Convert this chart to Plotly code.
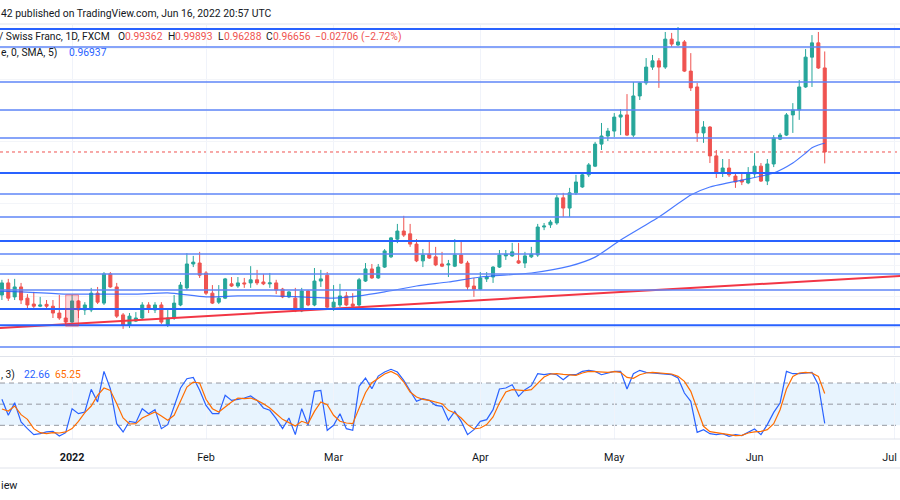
import numpy as np
import pandas as pd
import plotly.graph_objects as go

# ---------------- data ----------------
calendar = pd.bdate_range("2021-12-01", "2022-07-29")
anchor = calendar.get_loc(pd.Timestamp("2022-01-03"))


def pos(d):
    return int(calendar.get_loc(pd.Timestamp(d)) - anchor)


dates = pd.bdate_range("2021-12-17", "2022-06-16")

opens = [0.9205, 0.9244, 0.9199, 0.9231, 0.9195, 0.9176, 0.9169, 0.9175, 0.9169, 0.9147, 0.9131,
         0.9118, 0.9186, 0.9157, 0.9157, 0.9211, 0.9179, 0.9273, 0.9231, 0.9141, 0.9108,
         0.9121, 0.9131, 0.9173, 0.9157, 0.9173, 0.9108, 0.9131, 0.9173, 0.9228, 0.9305,
         0.9308, 0.9276, 0.9211, 0.9182, 0.9195, 0.9241, 0.9234, 0.9244, 0.9244, 0.9254,
         0.9247, 0.9241, 0.9244, 0.9224, 0.9199, 0.9195, 0.9154, 0.9218, 0.9173, 0.9250,
         0.9269, 0.9166, 0.9173, 0.9202, 0.9176, 0.9173, 0.9250, 0.9289, 0.9260, 0.9295,
         0.9328, 0.9385, 0.9411, 0.9402, 0.9369, 0.9315, 0.9337, 0.9328, 0.9305, 0.9302,
         0.9298, 0.9334, 0.9308, 0.9234, 0.9224, 0.9257, 0.9263, 0.9295, 0.9331, 0.9331,
         0.9315, 0.9308, 0.9328, 0.9334, 0.9424, 0.9431, 0.9437, 0.9518, 0.9485, 0.9534,
         0.9553, 0.9592, 0.9620, 0.9691, 0.9717, 0.9733, 0.9778, 0.9785, 0.9720, 0.9846,
         0.9888, 0.9939, 0.9959, 0.9939, 1.0029, 1.0010, 1.0020, 0.9926, 0.9875, 0.9727,
         0.9746, 0.9653, 0.9598, 0.9614, 0.9588, 0.9575, 0.9566, 0.9595, 0.9620, 0.9572,
         0.9627, 0.9707, 0.9720, 0.9785, 0.9801, 0.9875, 0.9971, 1.0017, 0.99362]
highs = [0.9254, 0.9257, 0.9257, 0.9244, 0.9208, 0.9215, 0.9199, 0.9189, 0.9189, 0.9205, 0.9157,
         0.9205, 0.9189, 0.9182, 0.9228, 0.9231, 0.9279, 0.9279, 0.9244, 0.9147, 0.9147,
         0.9150, 0.9182, 0.9182, 0.9182, 0.9182, 0.9157, 0.9205, 0.9247, 0.9340, 0.9331,
         0.9344, 0.9282, 0.9237, 0.9237, 0.9260, 0.9263, 0.9263, 0.9260, 0.9298, 0.9286,
         0.9273, 0.9276, 0.9254, 0.9228, 0.9218, 0.9228, 0.9228, 0.9221, 0.9292, 0.9286,
         0.9279, 0.9237, 0.9241, 0.9215, 0.9211, 0.9260, 0.9308, 0.9305, 0.9305, 0.9353,
         0.9392, 0.9434, 0.9460, 0.9434, 0.9385, 0.9353, 0.9376, 0.9360, 0.9344, 0.9318,
         0.9385, 0.9376, 0.9315, 0.9260, 0.9279, 0.9279, 0.9298, 0.9350, 0.9350, 0.9373,
         0.9373, 0.9344, 0.9360, 0.9434, 0.9437, 0.9447, 0.9527, 0.9534, 0.9550, 0.9592,
         0.9595, 0.9630, 0.9698, 0.9759, 0.9743, 0.9791, 0.9804, 0.9852, 0.9891, 0.9891,
         0.9968, 0.9978, 0.9968, 1.0052, 1.0049, 1.0068, 1.0026, 0.9984, 0.9888, 0.9765,
         0.9749, 0.9672, 0.9643, 0.9643, 0.9601, 0.9601, 0.9617, 0.9662, 0.9630, 0.9643,
         0.9720, 0.9727, 0.9791, 0.9823, 0.9897, 0.9997, 1.0042, 1.0052, 0.99893]
lows = [0.9189, 0.9186, 0.9189, 0.9176, 0.9163, 0.9163, 0.9166, 0.9163, 0.9131, 0.9125, 0.9105,
        0.9108, 0.9131, 0.9141, 0.9150, 0.9176, 0.9173, 0.9228, 0.9131, 0.9096, 0.9099,
        0.9118, 0.9128, 0.9147, 0.9147, 0.9112, 0.9102, 0.9125, 0.9169, 0.9221, 0.9295,
        0.9260, 0.9205, 0.9176, 0.9176, 0.9192, 0.9231, 0.9228, 0.9228, 0.9228, 0.9237,
        0.9237, 0.9228, 0.9208, 0.9195, 0.9195, 0.9150, 0.9150, 0.9169, 0.9169, 0.9231,
        0.9163, 0.9154, 0.9166, 0.9169, 0.9163, 0.9166, 0.9247, 0.9257, 0.9257, 0.9292,
        0.9324, 0.9372, 0.9392, 0.9360, 0.9311, 0.9295, 0.9321, 0.9298, 0.9295, 0.9263,
        0.9295, 0.9305, 0.9221, 0.9199, 0.9221, 0.9247, 0.9244, 0.9292, 0.9318, 0.9328,
        0.9305, 0.9292, 0.9324, 0.9328, 0.9414, 0.9421, 0.9431, 0.9456, 0.9456, 0.9527,
        0.9550, 0.9585, 0.9617, 0.9672, 0.9701, 0.9714, 0.9720, 0.9717, 0.9714, 0.9833,
        0.9881, 0.9930, 0.9872, 0.9933, 1.0004, 1.0007, 0.9923, 0.9862, 0.9698, 0.9695,
        0.9630, 0.9582, 0.9585, 0.9585, 0.9550, 0.9559, 0.9562, 0.9585, 0.9569, 0.9559,
        0.9617, 0.9704, 0.9717, 0.9727, 0.9769, 0.9872, 0.9875, 0.9933, 0.96288]
closes = [0.9244, 0.9195, 0.9231, 0.9189, 0.9173, 0.9169, 0.9173, 0.9169, 0.9147, 0.9131, 0.9118,
          0.9186, 0.9157, 0.9173, 0.9211, 0.9182, 0.9273, 0.9231, 0.9137, 0.9108, 0.9137,
          0.9131, 0.9173, 0.9160, 0.9173, 0.9118, 0.9131, 0.9179, 0.9237, 0.9305, 0.9311,
          0.9269, 0.9211, 0.9179, 0.9195, 0.9257, 0.9234, 0.9244, 0.9241, 0.9254, 0.9244,
          0.9241, 0.9244, 0.9221, 0.9199, 0.9215, 0.9154, 0.9218, 0.9173, 0.9250, 0.9257,
          0.9166, 0.9182, 0.9202, 0.9173, 0.9169, 0.9254, 0.9289, 0.9260, 0.9295, 0.9347,
          0.9389, 0.9411, 0.9398, 0.9369, 0.9315, 0.9334, 0.9324, 0.9302, 0.9298, 0.9305,
          0.9334, 0.9308, 0.9231, 0.9224, 0.9260, 0.9263, 0.9295, 0.9334, 0.9337, 0.9344,
          0.9308, 0.9331, 0.9337, 0.9424, 0.9427, 0.9440, 0.9518, 0.9485, 0.9534, 0.9569,
          0.9592, 0.9624, 0.9691, 0.9717, 0.9733, 0.9778, 0.9785, 0.9720, 0.9846, 0.9888,
          0.9939, 0.9959, 0.9939, 1.0029, 1.0013, 1.0020, 0.9926, 0.9872, 0.9727, 0.9746,
          0.9653, 0.9598, 0.9614, 0.9592, 0.9569, 0.9569, 0.9598, 0.9620, 0.9572, 0.9627,
          0.9711, 0.9720, 0.9785, 0.9801, 0.9875, 0.9971, 1.0017, 0.9936, 0.96656]

sma_dates = ["2021-12-16", "2021-12-22", "2021-12-31", "2022-01-07", "2022-01-17", "2022-01-24",
             "2022-02-01", "2022-02-08", "2022-02-15", "2022-02-22", "2022-03-01", "2022-03-07",
             "2022-03-11", "2022-03-18", "2022-03-25", "2022-04-01", "2022-04-13", "2022-04-21",
             "2022-04-27", "2022-05-03", "2022-05-11", "2022-05-18", "2022-05-23", "2022-05-31",
             "2022-06-06", "2022-06-09", "2022-06-13", "2022-06-14", "2022-06-15", "2022-06-16"]
sma_values = [0.9218, 0.9215, 0.9208, 0.9208, 0.9208, 0.9212, 0.9199, 0.9202, 0.9202, 0.9199,
              0.9195, 0.9202, 0.9215, 0.9234, 0.9247, 0.9263, 0.9276, 0.9298, 0.9327, 0.9382,
              0.9456, 0.9527, 0.9553, 0.9579, 0.9598, 0.9630, 0.9662, 0.9679, 0.9688, 0.96937]

stoch_k = [56.9, 34.2, 52.1, 24.7, 15.3, 6.8, 8.2, 10.6, 11.5, 4.9, 9.6,
           43.6, 36.5, 38.9, 71.0, 53.1, 96.5, 72.0, 22.4, 10.6, 25.7,
           23.8, 43.6, 36.5, 42.2, 15.3, 20.9, 48.3, 72.9, 86.1, 88.0,
           69.6, 48.3, 36.5, 36.5, 62.5, 55.4, 56.9, 58.7, 61.6, 55.4,
           44.6, 41.3, 29.5, 15.3, 30.4, 6.8, 43.6, 20.0, 68.2, 69.6,
           12.9, 20.0, 36.5, 15.3, 12.9, 75.3, 87.1, 72.0, 89.9, 95.6,
           99.5, 95.6, 83.8, 69.6, 54.0, 57.8, 55.4, 48.3, 46.9, 27.1,
           39.8, 25.7, 6.8, 13.9, 25.7, 28.0, 42.2, 71.5, 72.9, 77.6,
           61.1, 70.6, 76.2, 93.2, 91.8, 93.2, 91.8, 84.7, 91.8, 91.8,
           96.5, 98.0, 96.5, 91.8, 94.2, 96.5, 96.5, 71.5, 93.2, 98.0,
           95.1, 94.2, 93.2, 93.2, 91.8, 87.1, 65.8, 54.0, 10.1, 13.9,
           8.2, 6.8, 8.2, 4.4, 6.8, 5.4, 10.1, 14.8, 6.8, 21.0,
           38.4, 51.7, 96.5, 93.2, 93.2, 94.2, 95.1, 77.6, 22.66]
stoch_d = [43.2, 40.3, 47.4, 35.1, 28.5, 15.3, 9.6, 8.2, 9.6, 9.1, 10.6,
           15.3, 25.7, 38.0, 47.4, 62.5, 72.9, 69.6, 50.7, 30.4, 21.9,
           22.4, 30.4, 35.1, 38.9, 33.2, 27.1, 34.2, 55.4, 74.3, 81.4,
           80.0, 56.9, 43.6, 38.9, 46.0, 53.1, 58.7, 57.8, 58.7, 55.4,
           50.7, 44.6, 36.5, 28.5, 23.8, 19.1, 25.7, 22.4, 39.8, 53.1,
           49.3, 34.2, 25.7, 23.3, 22.4, 43.6, 66.3, 80.5, 86.1, 92.8,
           96.5, 91.8, 81.4, 67.2, 60.2, 56.9, 55.4, 53.1, 50.7, 41.3,
           37.5, 30.4, 21.0, 14.8, 16.2, 21.0, 31.8, 51.7, 67.2, 70.6,
           70.1, 69.1, 70.6, 80.0, 88.5, 92.8, 93.2, 92.3, 91.3, 90.9,
           94.2, 96.5, 96.1, 95.1, 95.1, 96.1, 95.1, 88.0, 86.6, 91.8,
           94.2, 95.1, 94.2, 94.2, 92.8, 89.4, 82.4, 68.2, 44.6, 18.6,
           11.0, 9.6, 8.7, 6.8, 5.4, 5.8, 9.1, 10.6, 11.5, 13.9,
           22.4, 42.2, 71.5, 89.4, 94.2, 95.1, 94.2, 89.4, 65.25]

# horizontal levels drawn on the chart
levels = [1.0062, 1.0004, 0.9891, 0.9801, 0.9711, 0.9598, 0.9530, 0.9456,
          0.9379, 0.9337, 0.9273, 0.9221, 0.9160, 0.9108, 0.9038]
level_bold = [True, False, False, False, False, True, False, False,
              True, False, False, False, True, True, False]

trend_dates = ["2021-12-16", "2022-07-05"]
trend_prices = [0.9098, 0.9268]

rect_dates = ["2021-12-31", "2022-01-04"]
rect_prices = [0.9105, 0.9205]

stoch_levels = [80, 50, 20]

tick_dates = ["2022-01-03", "2022-02-01", "2022-03-01", "2022-04-01", "2022-05-02", "2022-06-01", "2022-07-01"]
tick_labels = ["<b>2022</b>", "Feb", "Mar", "Apr", "May", "Jun", "Jul\u00a0\u00a0\u00a0\u00a0"]

# ---------------- figure ----------------
W, H = 900, 500
FONT = "Roboto"
TXT = "#131722"
RED = "#ef5350"
GREEN = "#26a69a"
BLUE = "#2962ff"
THIN = "#5f86f7"
ORANGE = "#ff6d00"

x = [pos(d) for d in dates]
tickvals = [pos(d) for d in tick_dates]

main_top, main_bot = 25, 355
st_top, st_bot = 358, 439


def py(p):
    return 1 - p / H


fig = go.Figure()

fig.add_trace(go.Candlestick(x=x, open=opens, high=highs, low=lows, close=closes,
                             increasing=dict(line=dict(color=GREEN, width=1), fillcolor=GREEN),
                             decreasing=dict(line=dict(color=RED, width=1), fillcolor=RED),
                             whiskerwidth=0, xaxis="x", yaxis="y", showlegend=False))
fig.add_trace(go.Scatter(x=[pos(d) for d in sma_dates], y=sma_values, mode="lines",
                         line=dict(color="rgba(41,98,255,0.85)", width=1.2, shape="spline", smoothing=0.6),
                         xaxis="x", yaxis="y", hoverinfo="skip", showlegend=False))
fig.add_trace(go.Scatter(x=[pos(d) for d in trend_dates], y=trend_prices, mode="lines",
                         line=dict(color="#f23645", width=2),
                         xaxis="x", yaxis="y", hoverinfo="skip", showlegend=False))

fig.add_trace(go.Scatter(x=x, y=stoch_k, mode="lines", line=dict(color=BLUE, width=1.2),
                         xaxis="x2", yaxis="y2", hoverinfo="skip", showlegend=False))
fig.add_trace(go.Scatter(x=x, y=stoch_d, mode="lines", line=dict(color=ORANGE, width=1.2),
                         xaxis="x2", yaxis="y2", hoverinfo="skip", showlegend=False))

shapes = []
for lv, bold in zip(levels, level_bold):
    shapes.append(dict(type="line", xref="paper", yref="y", x0=0, x1=1, y0=lv, y1=lv,
                       line=dict(color=BLUE if bold else THIN, width=2 if bold else 1.5),
                       layer="above"))
shapes.append(dict(type="rect", xref="x", yref="y", x0=pos(rect_dates[0]), x1=pos(rect_dates[1]),
                   y0=rect_prices[0], y1=rect_prices[1],
                   fillcolor="rgba(242,54,69,0.2)", line=dict(color="rgba(242,54,69,0.55)", width=1),
                   layer="above"))
shapes.append(dict(type="line", xref="paper", yref="y", x0=0, x1=1, y0=closes[-1], y1=closes[-1],
                   line=dict(color=RED, width=1, dash="dot"), layer="below"))
shapes.append(dict(type="rect", xref="paper", yref="y2", x0=0, x1=1, y0=stoch_levels[2], y1=stoch_levels[0],
                   fillcolor="rgba(33,150,243,0.1)", line=dict(width=0), layer="below"))
for lv in stoch_levels:
    shapes.append(dict(type="line", xref="paper", yref="y2", x0=0, x1=1, y0=lv, y1=lv,
                       line=dict(color="#9598a1", width=1, dash="5px,4px"), layer="below"))
for yy in [24, 356.5, st_bot, 468]:
    shapes.append(dict(type="line", xref="paper", yref="paper", x0=0, x1=1, y0=py(yy), y1=py(yy),
                       line=dict(color="#e0e3eb", width=1)))

ann = []


def add_text(t, xpx, ypx, color=TXT, size=10.3, anchor="left"):
    ann.append(dict(text=t, x=xpx / W, y=py(ypx), xref="paper", yref="paper", xanchor=anchor,
                    yanchor="middle", showarrow=False, font=dict(family=FONT, size=size, color=color)))


add_text("42 published on TradingView.com, Jun 16, 2022 20:57 UTC", -1, 13, size=10.4)
add_text("/ Swiss Franc, 1D, FXCM", -3, 36.5)
add_text("O", 116, 36.5)
add_text("0.99362", 123, 36.5, RED)
add_text("H", 166, 36.5)
add_text("0.99893", 173, 36.5, RED)
add_text("L", 216, 36.5)
add_text("0.96288", 222, 36.5, RED)
add_text("C", 264, 36.5)
add_text("0.96656", 271, 36.5, RED)
add_text("\u22120.02706 (\u22122.72%)", 313, 36.5, RED)
add_text("e, 0, SMA, 5)", -1, 52.5)
add_text("0.96937", 67, 52.5, BLUE)
add_text(", 3)", -1, 374)
add_text("22.66", 22, 374, BLUE)
add_text("65.25", 53, 374, ORANGE)
add_text("iew", -1, 485, size=10.8)

xr = [-11.3, 129.8]
fig.update_layout(
    template="none",
    width=W, height=H, margin=dict(l=0, r=0, t=0, b=0, pad=0, autoexpand=False),
    paper_bgcolor="white", plot_bgcolor="white",
    showlegend=False, hovermode=False, boxgap=0.32,
    shapes=shapes, annotations=ann,
    font=dict(family=FONT, color=TXT, size=11),
    xaxis=dict(domain=[0, 1], range=xr, anchor="y", tickvals=tickvals, showticklabels=False,
               showgrid=True, gridcolor="#f0f3fa", gridwidth=1, zeroline=False, showline=False, ticks="",
               rangeslider=dict(visible=False), automargin=False),
    yaxis=dict(domain=[py(main_bot), py(main_top)], range=[0.90119, 1.00745], anchor="x",
               showticklabels=False, showgrid=True, gridcolor="#f3f5f9", gridwidth=1, dtick=0.01, tick0=0.9,
               zeroline=False, showline=False, ticks="", automargin=False),
    xaxis2=dict(domain=[0, 1], range=xr, anchor="y2", tickvals=tickvals, ticktext=tick_labels,
                showgrid=True, gridcolor="#f0f3fa", gridwidth=1, zeroline=False, showline=False, ticks="",
                ticklabelstandoff=10, ticklabeloverflow="allow", automargin=False,
                tickfont=dict(family=FONT, size=10.8, color=TXT)),
    yaxis2=dict(domain=[py(st_bot), py(st_top)], range=[0.6, 115.5], anchor="x2",
                showticklabels=False, showgrid=False, zeroline=False, showline=False, ticks="",
                automargin=False),
)

fig.write_html("out.html", config={"displayModeBar": False, "staticPlot": True},
               post_script="document.body.style.margin='0px';document.body.style.overflow='hidden';")
